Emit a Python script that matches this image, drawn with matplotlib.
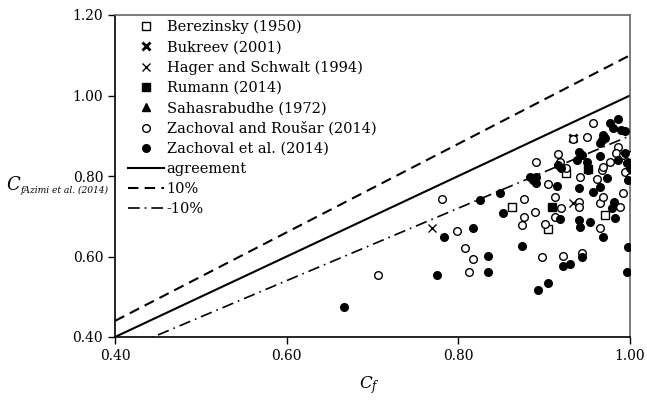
import matplotlib
matplotlib.use("Agg")
import matplotlib.pyplot as plt
import numpy as np

plt.rcParams['font.family'] = ['DejaVu Serif']
plt.rcParams['mathtext.fontset'] = 'dejavuserif'

# Zachoval et al. (2014) - filled circles
zet_x = [0.986, 0.977, 0.980, 0.990, 0.994, 0.969, 0.967, 0.971, 0.965, 0.940,
         0.944, 0.938, 0.965, 0.950, 0.986, 0.994, 0.996, 1.000, 0.998, 0.916,
         0.920, 0.883, 0.891, 0.887, 0.891, 0.915, 0.940, 0.957, 0.973, 0.965,
         0.981, 0.979, 0.983, 0.825, 0.849, 0.852, 0.817, 0.783, 0.918, 0.940,
         0.942, 0.953, 0.969, 0.874, 0.835, 0.944, 0.998, 0.835, 0.893, 0.905,
         0.922, 0.930, 0.996, 0.775, 0.667, 0.951]
zet_y = [0.941, 0.932, 0.919, 0.914, 0.913, 0.902, 0.889, 0.894, 0.881, 0.860,
         0.852, 0.840, 0.850, 0.836, 0.840, 0.856, 0.832, 0.819, 0.790, 0.827,
         0.819, 0.797, 0.798, 0.790, 0.782, 0.775, 0.769, 0.761, 0.794, 0.773,
         0.736, 0.720, 0.695, 0.740, 0.757, 0.707, 0.672, 0.648, 0.692, 0.691,
         0.674, 0.686, 0.649, 0.627, 0.602, 0.600, 0.624, 0.561, 0.517, 0.533,
         0.577, 0.581, 0.562, 0.555, 0.474, 0.815]

# Zachoval and Rousar (2014) - open circles
zr_x = [0.957, 0.950, 0.934, 0.916, 0.918, 0.891, 0.926, 0.942, 0.961, 0.967,
        0.969, 0.977, 0.986, 0.984, 0.992, 1.000, 0.994, 1.000, 0.905, 0.913,
        0.920, 0.940, 0.940, 0.965, 0.969, 0.992, 0.988, 0.876, 0.889, 0.876,
        0.874, 0.901, 0.913, 0.965, 0.798, 0.781, 0.808, 0.817, 0.897, 0.922,
        0.944, 0.812, 0.706]
zr_y = [0.932, 0.896, 0.891, 0.855, 0.836, 0.834, 0.819, 0.797, 0.792, 0.815,
        0.822, 0.836, 0.873, 0.858, 0.852, 0.852, 0.811, 0.798, 0.780, 0.747,
        0.720, 0.736, 0.724, 0.732, 0.749, 0.759, 0.724, 0.743, 0.711, 0.697,
        0.678, 0.681, 0.699, 0.670, 0.664, 0.743, 0.620, 0.593, 0.598, 0.602,
        0.608, 0.562, 0.555]

# Berezinsky (1950) - open squares
ber_x = [0.926, 0.862, 0.905, 0.971]
ber_y = [0.807, 0.722, 0.668, 0.703]

# Rumann (2014) - filled squares
rum_x = [0.951, 0.909]
rum_y = [0.817, 0.722]

# Bukreev (2001)
buk_x = [0.934]
buk_y = [0.894]

# Hager and Schwalt (1994)
hag_x = [0.934, 0.769]
hag_y = [0.732, 0.672]

# Sahasrabudhe (1972)
sah_x = []
sah_y = []

line_x = [0.40, 1.00]
ticks = [0.40, 0.60, 0.80, 1.00]
yticks = [0.40, 0.60, 0.80, 1.00, 1.20]

fig = plt.figure(figsize=(6.47, 4.01), dpi=100)
ax = fig.add_axes([115/647, 1-337/401, 515/647, 322/401])

ms = 5.5
ax.plot(ber_x, ber_y, linestyle='none', marker='s', mfc='white', mec='black', mew=1.0, ms=ms, label='Berezinsky (1950)', zorder=3)
ax.plot(buk_x, buk_y, linestyle='none', marker='x', color='black', mew=2.0, ms=ms, label='Bukreev (2001)', zorder=3)
ax.plot(hag_x, hag_y, linestyle='none', marker='x', color='black', mew=1.0, ms=ms, label='Hager and Schwalt (1994)', zorder=3)
ax.plot(rum_x, rum_y, linestyle='none', marker='s', color='black', ms=ms, label='Rumann (2014)', zorder=3)
ax.plot(sah_x, sah_y, linestyle='none', marker='^', color='black', ms=ms, label='Sahasrabudhe (1972)', zorder=3)
ax.plot(zr_x, zr_y, linestyle='none', marker='o', mfc='white', mec='black', mew=1.0, ms=ms, label='Zachoval and Roušar (2014)', zorder=3)
ax.plot(zet_x, zet_y, linestyle='none', marker='o', color='black', ms=ms, label='Zachoval et al. (2014)', zorder=3)

lx = np.array(line_x)
ax.plot(lx, lx, color='black', lw=1.5, label='agreement', zorder=2)
ax.plot(lx, 1.1*lx, color='black', lw=1.5, linestyle=(0, (5, 3)), label='10%', zorder=2)
ax.plot(lx, 0.9*lx, color='black', lw=1.2, linestyle=(0, (7, 3, 1, 3)), label='-10%', zorder=2)

ax.set_xlim(0.40, 1.00)
ax.set_ylim(0.40, 1.20)
ax.set_xticks(ticks)
ax.set_yticks(yticks)
ax.set_xticklabels([f'{t:.2f}' for t in ticks])
ax.set_yticklabels([f'{t:.2f}' for t in yticks])
ax.tick_params(direction='out', length=5, width=1, labelsize=10)
for s in ['left', 'bottom']:
    ax.spines[s].set_color('black')
    ax.spines[s].set_linewidth(1.2)
for s in ['top', 'right']:
    ax.spines[s].set_color('#666666')
    ax.spines[s].set_linewidth(1.2)

leg = ax.legend(loc='upper left', bbox_to_anchor=(0.008, 1.012), frameon=False,
                fontsize=10.5, handlelength=2.5, handletextpad=0.15,
                labelspacing=0.42, borderaxespad=0.2)

fig.text(6/647, 1-190/401, r'$C$', fontsize=13, va='baseline', ha='left')
fig.text(21/647, 1-193/401, 'fAzimi et al. (2014)', fontsize=6.6, style='italic',
         va='baseline', ha='left')
fig.text(369/647, 1-385/401, r'$C_f$', fontsize=12, va='center', ha='center')

fig.savefig('out.png', dpi=100)
